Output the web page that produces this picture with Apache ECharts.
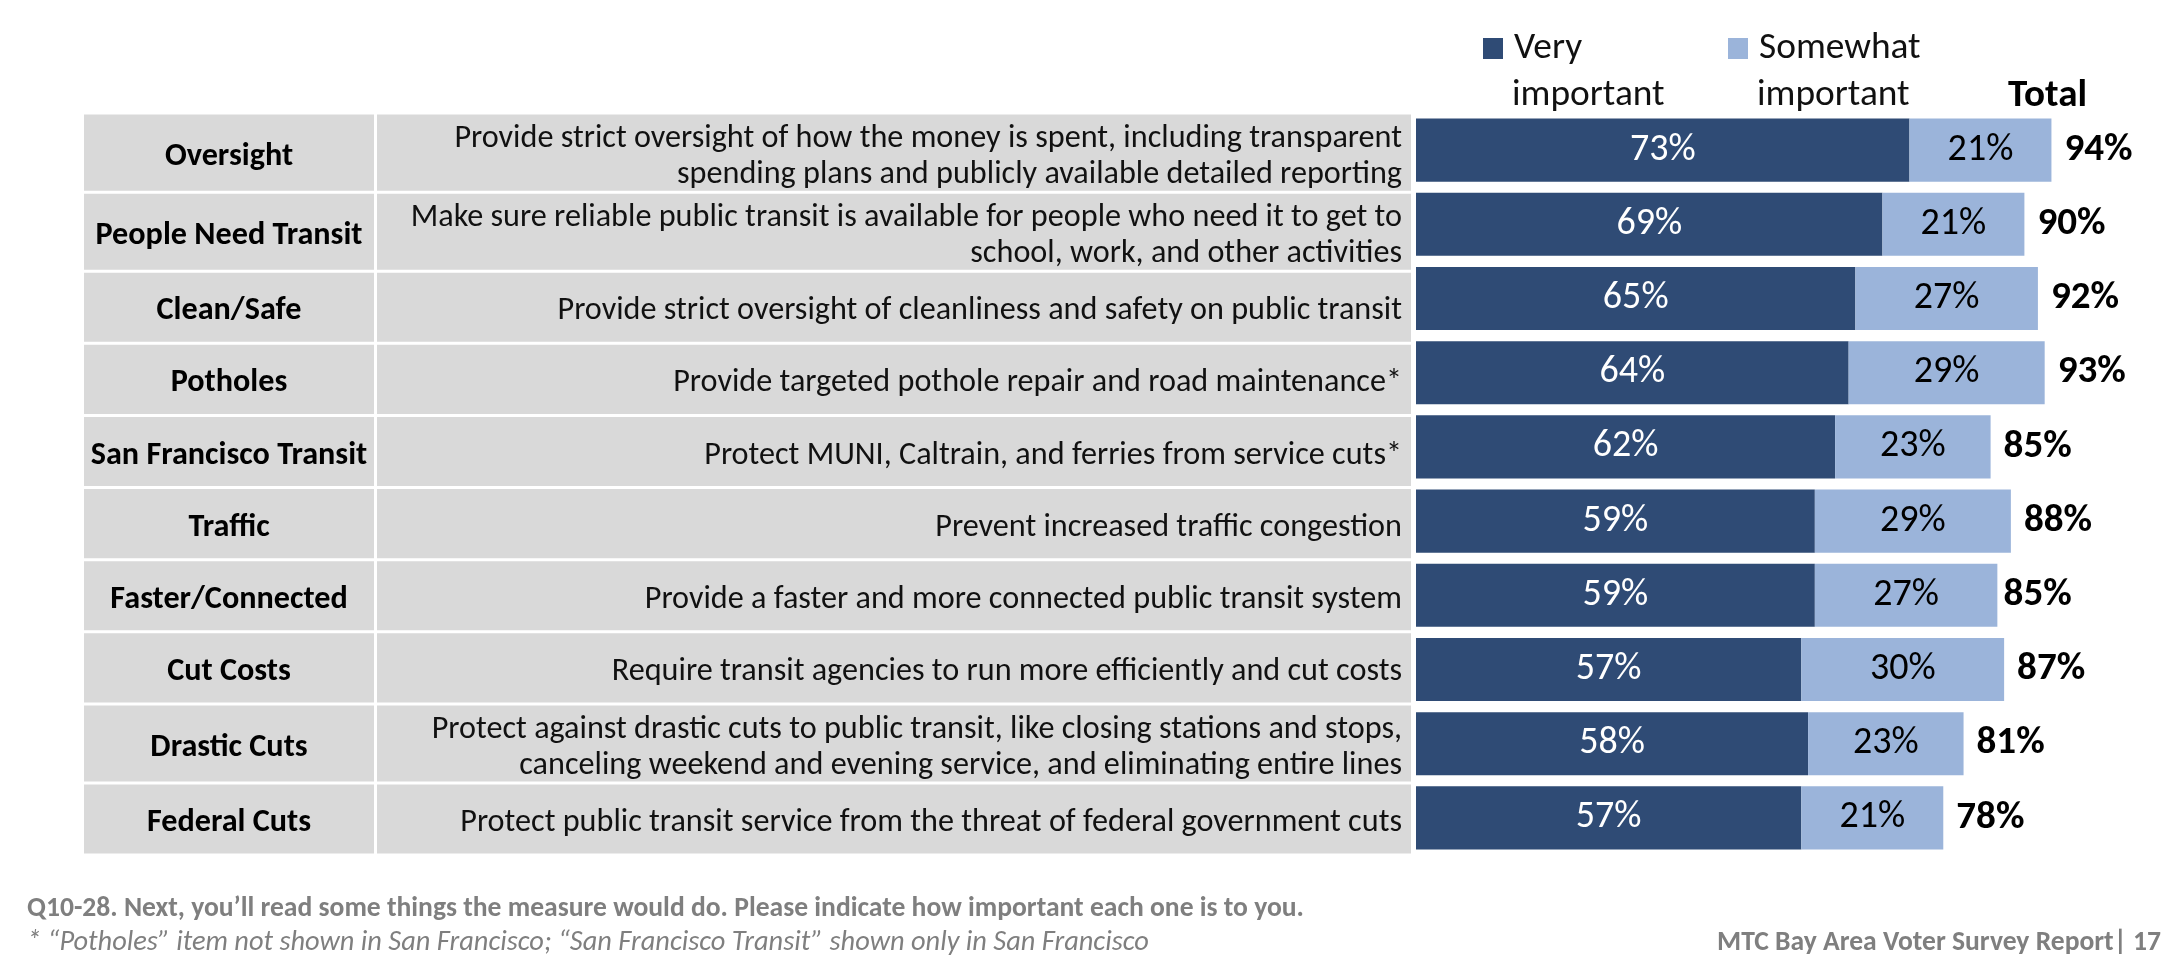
<!DOCTYPE html>
<html>
<head>
<meta charset="utf-8">
<script src="https://cdn.jsdelivr.net/npm/echarts@6/dist/echarts.min.js"></script>
<style>
html,body{margin:0;padding:0;background:#fff;}
#chart{width:2182px;height:972px;}
</style>
</head>
<body>
<div id="chart"></div>
<script>
const categories = ['Oversight', 'People Need Transit', 'Clean/Safe', 'Potholes', 'San Francisco Transit', 'Traffic', 'Faster/Connected', 'Cut Costs', 'Drastic Cuts', 'Federal Cuts'];
const descriptions = [
  'Provide strict oversight of how the money is spent, including transparent\nspending plans and publicly available detailed reporting',
  'Make sure reliable public transit is available for people who need it to get to\nschool, work, and other activities',
  'Provide strict oversight of cleanliness and safety on public transit',
  'Provide targeted pothole repair and road maintenance*',
  'Protect MUNI, Caltrain, and ferries from service cuts*',
  'Prevent increased traffic congestion',
  'Provide a faster and more connected public transit system',
  'Require transit agencies to run more efficiently and cut costs',
  'Protect against drastic cuts to public transit, like closing stations and stops,\ncanceling weekend and evening service, and eliminating entire lines',
  'Protect public transit service from the threat of federal government cuts'
];
const veryImportant = [73, 69, 65, 64, 62, 59, 59, 57, 58, 57];
const somewhatImportant = [21, 21, 27, 29, 23, 29, 27, 30, 23, 21];
const totals = [94, 90, 92, 93, 85, 88, 85, 87, 81, 78];
const seriesNames = ['Very important', 'Somewhat important'];
const legendFirstLines = ['Very', 'Somewhat'];
const legendSecondLines = ['important', 'important'];
const totalHeader = 'Total';
const footerQuestion = 'Q10-28. Next, you\u2019ll read some things the measure would do. Please indicate how important each one is to you.';
const footerNote = '* \u201cPotholes\u201d item not shown in San Francisco; \u201cSan Francisco Transit\u201d shown only in San Francisco';
const footerSource = 'MTC Bay Area Voter Survey Report| 17';

// font selection: Carlito if present, otherwise Lato scaled to Calibri widths
function measure(font, text) {
  const c = document.createElement('canvas').getContext('2d');
  c.font = font;
  return c.measureText(text).width;
}
const sample = descriptions[0].split('\n')[0];
const hasCarlito = measure('28px Carlito, monospace', sample) !== measure('28px monospace', sample);
const FONT = hasCarlito ? 'Carlito' : 'Lato';
const k = 949 / measure('28px ' + FONT, sample);
const fs = v => Math.round(v * k * 10) / 10;

const DARK = '#2F4B75';
const LIGHT = '#9BB4DA';
const CELL = '#D9D9D9';
const GRAY_TEXT = '#7F7F7F';

// table row layout: two-line rows are taller than one-line rows
const rowWeights = descriptions.map(d => (d.indexOf('\n') >= 0 ? 79.5 : 72.5));
const weightSum = rowWeights.reduce((a, b) => a + b, 0);
const rowStarts = [];
rowWeights.reduce((acc, w, i) => { rowStarts[i] = acc; return acc + w; }, 0);

const chart = echarts.init(document.getElementById('chart'));
const option = {
  backgroundColor: '#fff',
  animation: false,
  textStyle: { fontFamily: FONT },
  grid: { left: 1416, top: 113, width: 676, height: 742, containLabel: false },
  xAxis: { type: 'value', min: 0, max: 100, show: false },
  yAxis: { type: 'category', data: categories, inverse: true, show: false },
  legend: [
    {
      data: [seriesNames[0]], left: 1478, top: 25, itemWidth: 20, itemHeight: 21,
      icon: 'rect', selectedMode: false,
      formatter: () => legendFirstLines[0],
      textStyle: { fontFamily: FONT, fontSize: fs(32.5), color: '#111', padding: [0, 0, 0, 6] }
    },
    {
      data: [seriesNames[1]], left: 1723, top: 25, itemWidth: 20, itemHeight: 21,
      icon: 'rect', selectedMode: false,
      formatter: () => legendFirstLines[1],
      textStyle: { fontFamily: FONT, fontSize: fs(32.5), color: '#111', padding: [0, 0, 0, 6] }
    }
  ],
  title: [
    { text: footerQuestion, left: 22, top: 890, textStyle: { fontFamily: FONT, fontSize: fs(24), fontWeight: 'bold', color: GRAY_TEXT } },
    { text: footerNote, left: 22, top: 924, textStyle: { fontFamily: FONT, fontSize: fs(24.7), fontStyle: 'italic', fontWeight: 'normal', color: GRAY_TEXT } },
    { text: footerSource, right: 16, top: 924, textStyle: { fontFamily: FONT, fontSize: fs(24), fontWeight: 'bold', color: GRAY_TEXT } }
  ],
  graphic: [
    { type: 'text', left: 1512, top: 77, style: { text: legendSecondLines[0], fontFamily: FONT, fontSize: fs(32.5), fill: '#111' } },
    { type: 'text', left: 1757, top: 77, style: { text: legendSecondLines[1], fontFamily: FONT, fontSize: fs(32.5), fill: '#111' } },
    { type: 'text', left: 2008, top: 77, style: { text: totalHeader, fontFamily: FONT, fontSize: fs(34), fontWeight: 'bold', fill: '#000' } }
  ],
  series: [
    {
      type: 'custom',
      coordinateSystem: 'cartesian2d',
      clip: false,
      silent: true,
      encode: { x: 0, y: 1 },
      data: categories.map((c, i) => [0, i]),
      renderItem: (params, api) => {
        const idx = api.value(1);
        const band = api.size([0, 1])[1];
        const firstTop = api.coord([0, 0])[1] - band / 2 + 1.6;
        const scale = (band * 10) / weightSum;
        const top = firstTop + rowStarts[idx] * scale;
        const h = rowWeights[idx] * scale - 3;
        const mid = top + h / 2 + 4;
        return {
          type: 'group',
          children: [
            { type: 'rect', shape: { x: 84, y: top, width: 290, height: h }, style: { fill: CELL } },
            { type: 'rect', shape: { x: 377, y: top, width: 1034, height: h }, style: { fill: CELL } },
            { type: 'text', style: { text: categories[idx], x: 229, y: mid, align: 'center', verticalAlign: 'middle', fontFamily: FONT, fontSize: fs(28), fontWeight: 'bold', fill: '#000' } },
            { type: 'text', style: { text: descriptions[idx], x: 1402, y: mid, align: 'right', verticalAlign: 'middle', lineHeight: 36, fontFamily: FONT, fontSize: fs(28), fill: '#111' } }
          ]
        };
      },
      z: 1
    },
    {
      name: seriesNames[0], type: 'bar', stack: 'imp', barWidth: '85%',
      data: veryImportant, itemStyle: { color: DARK },
      label: { show: true, position: 'inside', formatter: '{c}%', color: '#fff', fontFamily: FONT, fontSize: fs(33) },
      z: 3
    },
    {
      name: seriesNames[1], type: 'bar', stack: 'imp', barWidth: '85%',
      data: somewhatImportant, itemStyle: { color: LIGHT },
      label: { show: true, position: 'inside', formatter: '{c}%', color: '#000', fontFamily: FONT, fontSize: fs(33) },
      z: 3
    },
    {
      name: 'Total', type: 'bar', barWidth: '85%', barGap: '-100%', silent: true,
      data: totals, itemStyle: { color: 'rgba(0,0,0,0)' },
      label: { show: true, position: 'right', distance: 13, formatter: '{c}%', color: '#000', fontFamily: FONT, fontSize: fs(34), fontWeight: 'bold' },
      z: 2
    }
  ]
};
chart.setOption(option);
</script>
</body>
</html>
